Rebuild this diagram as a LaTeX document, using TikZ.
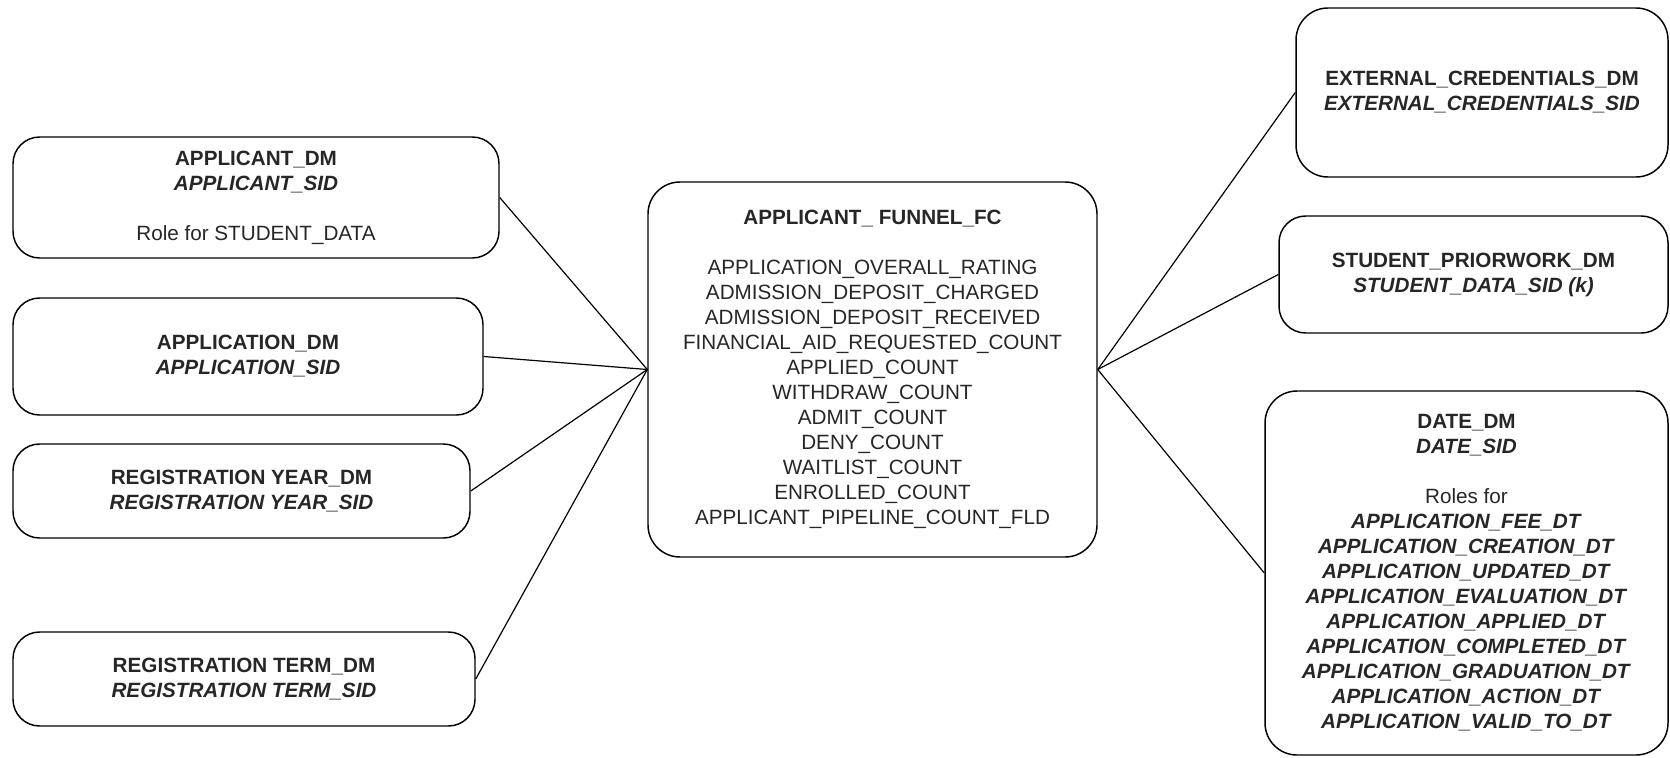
\documentclass[tikz,border=0pt]{standalone}
\usepackage{fontspec}
\setmainfont{Liberation Sans}
\usetikzlibrary{positioning}

\begin{document}
\begin{tikzpicture}[x=0.75pt,y=0.75pt,yscale=-1,xscale=1]
  \tikzset{table/.style={draw,line width=1.1pt,rounded corners=20pt,align=center,inner sep=0pt,text=black!85,font=\fontsize{15.5}{18.75}\selectfont},
    link/.style={line width=0.9pt}}
  \useasboundingbox (0,0) rectangle (1670,757);
  %Draw the dimension boxes on the left
  \node[table,minimum width=364.5pt,minimum height=90.75pt] (applicant) at (256,197.5)
    {\textbf{APPLICANT\_DM}\\ \textbf{\textit{APPLICANT\_SID}}\\[18.75pt] Role for STUDENT\_DATA};
  \node[table,minimum width=352.5pt,minimum height=87.75pt] (application) at (248,356.5)
    {\textbf{APPLICATION\_DM}\\ \textbf{\textit{APPLICATION\_SID}}};
  \node[table,minimum width=342.75pt,minimum height=70.5pt] (regyear) at (241.5,491)
    {\textbf{REGISTRATION YEAR\_DM}\\ \textbf{\textit{REGISTRATION YEAR\_SID}}};
  \node[table,minimum width=346.5pt,minimum height=70.5pt] (regterm) at (244,679)
    {\textbf{REGISTRATION TERM\_DM}\\ \textbf{\textit{REGISTRATION TERM\_SID}}};
  %Draw the fact box in the middle
  \node[table,rounded corners=24pt,minimum width=336.75pt,minimum height=281.25pt] (funnel) at (872.5,369.5)
    {\textbf{APPLICANT\_ FUNNEL\_FC}\\[18.75pt]
     APPLICATION\_OVERALL\_RATING\\ ADMISSION\_DEPOSIT\_CHARGED\\ ADMISSION\_DEPOSIT\_RECEIVED\\
     FINANCIAL\_AID\_REQUESTED\_COUNT\\ APPLIED\_COUNT\\ WITHDRAW\_COUNT\\ ADMIT\_COUNT\\
     DENY\_COUNT\\ WAITLIST\_COUNT\\ ENROLLED\_COUNT\\ APPLICANT\_PIPELINE\_COUNT\_FLD};
  %Draw the dimension boxes on the right
  \node[table,rounded corners=24pt,minimum width=279pt,minimum height=126.75pt] (extcred) at (1482,92.5)
    {\textbf{EXTERNAL\_CREDENTIALS\_DM}\\ \textbf{\textit{EXTERNAL\_CREDENTIALS\_SID}}};
  \node[table,minimum width=291.75pt,minimum height=87.75pt] (priorwork) at (1473.5,274.5)
    {\textbf{STUDENT\_PRIORWORK\_DM}\\ \textbf{\textit{STUDENT\_DATA\_SID (k)}}};
  \node[table,rounded corners=24pt,minimum width=302.25pt,minimum height=273pt] (datedm) at (1466.5,573)
    {\textbf{DATE\_DM}\\ \textbf{\textit{DATE\_SID}}\\[18.75pt] Roles for\\
     \textbf{\textit{APPLICATION\_FEE\_DT}}\\ \textbf{\textit{APPLICATION\_CREATION\_DT}}\\
     \textbf{\textit{APPLICATION\_UPDATED\_DT}}\\ \textbf{\textit{APPLICATION\_EVALUATION\_DT}}\\
     \textbf{\textit{APPLICATION\_APPLIED\_DT}}\\ \textbf{\textit{APPLICATION\_COMPLETED\_DT}}\\
     \textbf{\textit{APPLICATION\_GRADUATION\_DT}}\\ \textbf{\textit{APPLICATION\_ACTION\_DT}}\\
     \textbf{\textit{APPLICATION\_VALID\_TO\_DT}}};
  %Connect everything to the fact
  \draw[link] (applicant.east) -- (funnel.west);
  \draw[link] (application.east) -- (funnel.west);
  \draw[link] (regyear.east) -- (funnel.west);
  \draw[link] (regterm.east) -- (funnel.west);
  \draw[link] (funnel.east) -- (extcred.west);
  \draw[link] (funnel.east) -- (priorwork.west);
  \draw[link] (funnel.east) -- (datedm.west);
\end{tikzpicture}
\end{document}
